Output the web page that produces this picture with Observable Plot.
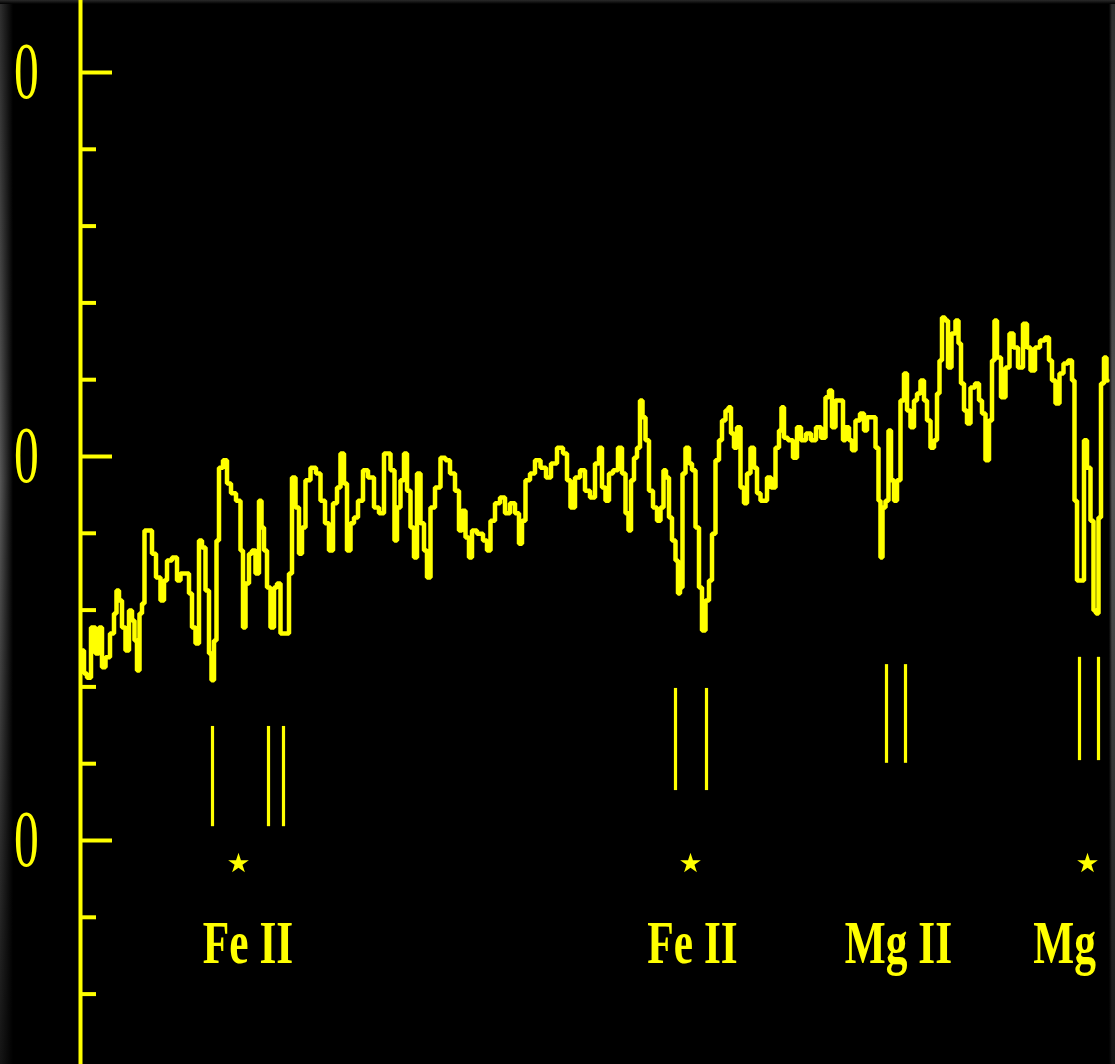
<!DOCTYPE html>
<html>
<head>
<meta charset="utf-8">
<script src="https://cdn.jsdelivr.net/npm/d3@7"></script>
<script src="https://cdn.jsdelivr.net/npm/@observablehq/plot@0.6"></script>
<style>
  html, body { margin: 0; padding: 0; background: #000; }
  #wrap {
    position: relative; width: 1115px; height: 1064px; overflow: hidden;
    background:
      linear-gradient(to bottom, #2a2a2a 0, #000 4px) top / 100% 4px no-repeat,
      linear-gradient(to right, rgba(0,0,0,0) 0, #000 13px, #000 1109px, rgba(0,0,0,0) 1112px),
      linear-gradient(to bottom, #2e2e2e 0%, #575757 45%, #2c2c2c 80%, #151515 100%);
  }
  #wrap svg { position: absolute; left: 0; top: 0; }
</style>
</head>
<body>
<div id="wrap"></div>
<script>
// ---- data (channel along the dispersion axis, relative flux) ----
const spectrum = [
  [2,14.95],[5,14.35],[8,14.24],[13,15.55],[17,14.87],[20,15.55],[23,14.51],[27,14.77],[32,15.39],[35,15.91],
  [37,16.51],[40,16.25],[43,15.55],[47,14.95],[50,15.99],[53,15.73],[55,15.21],[58,14.43],[60,15.91],[63,16.17],
  [65,18.07],[70,18.07],[73,17.47],[78,16.85],[82,16.25],[85,16.77],[88,17.29],[95,17.37],[98,16.77],[102,16.95],
  [107,16.95],[110,16.43],[113,15.55],[117,15.13],[120,17.81],[123,17.63],[127,16.51],[130,14.87],[132,14.17],[135,15.21],
  [137,17.81],[140,19.71],[145,19.90],[148,19.30],[153,19.04],[158,18.85],[162,17.55],[163,15.55],[167,16.69],[170,17.47],
  [173,17.55],[177,16.95],[180,18.85],[182,18.15],[185,17.55],[188,16.59],[192,15.55],[195,16.59],[198,16.69],[202,15.39],
  [207,15.39],[210,16.95],[213,19.45],[217,18.67],[220,17.47],[223,18.15],[227,19.38],[233,19.71],[238,19.56],[242,18.85],
  [247,18.26],[250,17.55],[255,18.78],[258,19.19],[262,20.08],[265,19.30],[268,17.55],[272,18.26],[275,18.41],[280,18.85],
  [285,19.64],[290,19.45],[297,18.67],
  [300,18.52],[307,20.08],[313,19.64],[315,17.81],[318,18.67],[322,19.38],[325,20.08],[328,19.11],[332,18.15],[335,17.37],
  [338,19.56],[342,18.26],[345,17.55],[348,16.85],[352,18.67],[357,19.19],[363,19.97],[367,19.90],[372,19.56],[377,19.11],
  [380,18.07],[383,18.59],[387,17.89],[390,17.37],[393,18.07],[400,17.99],[405,17.81],[408,17.55],[412,18.33],[417,18.78],
  [422,18.93],[427,18.52],[432,18.78],[437,18.52],[440,17.73],[443,18.33],[447,19.38],[452,19.56],[457,19.90],[463,19.71],
  [468,19.45],[473,19.82],[480,20.23],[485,20.08],[488,19.38],[492,18.67],[497,19.45],[502,19.64],[507,19.11],[512,18.93],
  [517,19.82],
  [520,20.23],[523,19.19],[527,18.85],[530,19.56],[535,19.64],[540,20.23],[543,19.56],[547,18.52],[549,18.07],[552,19.38],
  [555,19.97],[558,20.23],[561,21.46],[563,21.02],[567,20.42],[570,19.11],[575,18.67],[578,18.33],[582,18.67],[584,19.64],
  [587,19.45],[590,18.41],[593,17.81],[597,17.29],[598,16.43],[601,16.59],[603,19.56],[607,20.23],[610,19.82],[613,19.64],
  [617,18.15],[620,16.59],[623,15.47],[627,16.25],[630,16.77],[633,17.99],[637,19.90],[640,20.42],[643,20.94],[647,21.20],
  [649,21.28],[652,20.60],[655,20.23],[658,20.76],[662,19.19],[665,18.78],[668,19.56],[672,20.23],[675,19.71],[678,19.04],
  [682,18.85],[685,18.85],[688,19.45],[693,19.19],[697,20.23],[700,20.68],[702,21.28],[705,20.49],[710,20.42],[715,19.97],
  [718,20.76],[723,20.42],[728,20.60],[733,20.42],[738,20.76],[743,20.49],[747,21.54],[750,21.72],[753,20.76],[757,21.46],
  [762,21.46],[763,20.42],[767,20.76],[770,20.42],[773,20.16],[777,20.94],[782,21.12],[785,20.68],[788,21.02],[793,21.02],
  [797,20.23],[799,18.85],[801,17.37],[803,18.67],[807,18.85],[809,20.68],[812,19.38],[815,18.85],[818,19.38],[822,21.46],
  [825,22.16],[828,21.20],[832,20.76],[835,21.46],[838,21.64],[842,21.98],[845,21.46],[848,20.94],[852,20.23],[855,20.42],
  [858,21.64],[860,22.50],[863,23.62],[866,23.54],[869,22.32],[873,23.20],[877,23.54],[879,22.94],[882,21.90],[885,21.20],
  [888,20.86],[892,21.80],[897,21.90],[900,21.46],[903,21.12],[907,19.90],[910,20.94],[913,22.50],[915,23.54],[918,22.58],
  [923,21.54],[927,22.32],[931,23.20],[935,22.84],[940,22.32],[945,23.46],[948,22.84],[952,22.24],[957,22.84],[962,23.02],
  [967,23.10],[970,22.50],[973,21.98],[977,21.38],[981,22.16],[985,22.42],[990,22.50],[993,21.98],[995,18.85],[998,16.77],
  [1002,16.77],[1005,20.42],[1008,19.71],[1012,18.33],[1014,15.99],[1017,15.91],[1019,18.41],[1022,21.90],[1025,22.58],[1027,21.98]
];

const yTicks = [6, 8, 10, 12, 14, 16, 18, 20, 22, 24, 26, 28, 30];
const majorTicks = [10, 20, 30];
const yTickLabels = ["0", "0", "0"];

const lineChannel = [132, 188, 203, 595, 626, 806, 825, 999, 1018];
const lineTop     = [12.97, 12.97, 12.97, 13.96, 13.96, 14.58, 14.58, 14.77, 14.77];
const lineBottom  = [10.36, 10.36, 10.36, 11.30, 11.30, 12.01, 12.01, 12.08, 12.08];

const asteriskChannel = [158, 610, 1007];
const asteriskLevel = 9.40;

const ionNames   = ["Fe II", "Fe II", "Mg II", "Mg"];
const ionChannel = [167.5, 612, 818, 984];
const ionLevel = 6.80;

// ---- build ----
const YEL = "#ffff00";
const lines = lineChannel.map((x, i) => ({x, top: lineTop[i], bottom: lineBottom[i]}));
const stars = asteriskChannel.map(x => ({x, y: asteriskLevel}));
const ions = ionNames.map((name, i) => ({name, x: ionChannel[i], y: ionLevel}));
const axisLabels = yTickLabels.map((t, i) => ({t, y: majorTicks[i]}));

const plot = Plot.plot({
  width: 1115, height: 1064,
  marginLeft: 80, marginRight: 0, marginTop: 0, marginBottom: 0,
  style: {background: "transparent", overflow: "visible"},
  x: {domain: [0, 1035], axis: null},
  y: {domain: [4.1667, 31.875], axis: null},
  marks: [
    Plot.ruleX([0], {stroke: YEL, strokeWidth: 4}),
    Plot.ruleY(yTicks, {y: d => d, x1: 0, x2: d => majorTicks.includes(d) ? 32 : 16, stroke: YEL, strokeWidth: 4}),
    Plot.text(axisLabels, {x: -54, y: "y", text: "t", fill: YEL, fontFamily: "Liberation Serif", fontSize: 80, textAnchor: "middle", lineAnchor: "middle"}),
    Plot.line(spectrum, {x: d => d[0], y: d => d[1], stroke: YEL, strokeWidth: 4.5, strokeLinejoin: "miter", curve: "step"}),
    Plot.ruleX(lines, {x: "x", y1: "top", y2: "bottom", stroke: YEL, strokeWidth: 3.2}),
    Plot.dot(stars, {x: "x", y: "y", symbol: "star", r: 6.5, fill: YEL}),
    Plot.text(ions, {x: "x", y: "y", text: "name", fill: YEL, fontFamily: "Liberation Serif", fontWeight: "bold", fontSize: 62, textAnchor: "middle", lineAnchor: "bottom"})
  ]
});

document.getElementById("wrap").appendChild(plot);

// condense the serif glyphs horizontally (like the original typesetting),
// scaling each text about its own anchor point
function condense(textEl, sx) {
  const t = textEl.getAttribute("transform") || "";
  const m = /translate\(\s*([-\d.e]+)[ ,]+([-\d.e]+)\s*\)/.exec(t);
  if (m && !textEl.hasAttribute("x")) {
    textEl.setAttribute("transform", `translate(${m[1]},${m[2]}) scale(${sx},1)`);
  } else {
    const x = +(textEl.getAttribute("x") || 0);
    textEl.setAttribute("transform", `${t} translate(${x},0) scale(${sx},1) translate(${-x},0)`);
  }
}
const groups = d3.select(plot).selectAll('g[aria-label="text"]').nodes();
d3.select(groups[0]).selectAll("text").each(function() { condense(this, 0.62); });
d3.select(groups[1]).selectAll("text").each(function() { condense(this, 0.70); });
</script>
</body>
</html>
